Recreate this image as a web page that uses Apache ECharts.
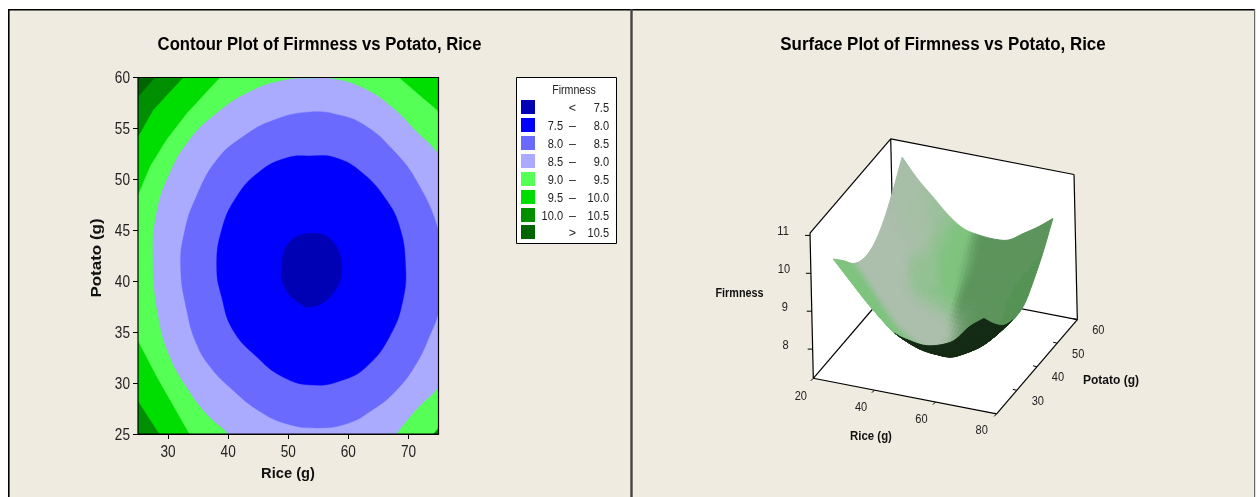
<!DOCTYPE html>
<html><head><meta charset="utf-8">
<style>html,body{margin:0;padding:0;background:#fff}#c{width:1257px;height:497px}</style>
<script src="https://cdn.jsdelivr.net/npm/echarts@6/dist/echarts.min.js"></script>
</head><body><div id="c"></div>
<script>
// ---------- contour boundaries: [rice, potato]
const band90 = [[53.6,59.9],[58,59.8],[63,58.8],[67.4,57],[71.3,54.7],[75,52.5],[79,49],[81,41],[79,33],[75,29.6],[71.3,27.4],[68,25],[65,22.5],[54,20],[43,22.5],[40,25],[36.4,27],[33.1,29.6],[30.3,32.6],[28.4,36.5],[27.5,42.1],[28.1,46.7],[30.3,50.6],[33.6,53.9],[38.1,56.5],[43.6,58.6],[49.1,59.7]];
const band85 = [[53.3,56.6],[58.6,56.3],[63,55.2],[67.4,52.9],[71.3,49.9],[75,45],[76,41],[75,37],[73.5,34.6],[71.3,31.9],[68,29.3],[64.1,27.4],[59.7,26],[54.7,25.6],[49.7,26],[45.3,27.2],[40.8,29.3],[37,31.6],[34.7,33.9],[33.1,37.2],[32.1,41.4],[32.8,45],[34.7,48.3],[38.1,51.9],[42.5,54.2],[47.5,55.8]];
const band80 = [[53.6,52.3],[58,52.1],[62.4,50.6],[66.3,48],[68.5,45.4],[69.5,41.8],[69.1,38.2],[66.9,34.6],[63,31.6],[59.1,30.3],[54.1,29.8],[49.1,30.6],[44.7,32.6],[40.8,35.2],[38.9,38.5],[38.1,41.4],[38.9,45],[41.4,48.3],[45.3,50.8],[49.7,52.1]];
const band75 = [[53.8,44.7],[57.4,43.9],[58.9,41.1],[57.4,38.8],[54.1,37.5],[51.4,38],[49.1,39.8],[48.9,41.4],[50,43.7]];
const cornerTL95 = [[25,48.5],[27,51.3],[29.7,53.9],[33.1,56.5],[38.6,60],[25,60]];
const cornerTL100 = [[25,54.2],[27.5,56.8],[32.5,60],[25,60]];
const cornerTL105 = [[25,58.1],[27.8,60],[25,60]];
const cornerTR95 = [[68.5,60],[71.8,58.3],[75,56.7],[75,60]];
const cornerBL95 = [[25,34.1],[28.1,30.6],[30.9,27.7],[33.5,25],[25,25]];
const cornerBL100 = [[25,28.2],[28.5,25],[25,25]];
const cornerBR95 = [[74.2,25],[75,25.6],[75,25]];
const plotArea = [[25,25],[75,25],[75,60],[25,60]];

// ---------- legend
const legendLeft = ['', '7.5', '8.0', '8.5', '9.0', '9.5', '10.0', ''];
const legendMid = ['<', '–', '–', '–', '–', '–', '–', '>'];
const legendRight = ['7.5','8.0','8.5','9.0','9.5','10.0','10.5','10.5'];
const bandColors = ['#0000b4','#0000ff','#6a6aff','#aaaaff','#55ff55','#00dd00','#008f00','#006400'];

// ---------- ticks
const contourRiceTicks = [30,40,50,60,70];
const contourPotatoTicks = [25,30,35,40,45,50,55,60];
const surfaceRiceTicks = [20,40,60,80];
const surfacePotatoTicks = [30,40,50,60];
const surfaceFirmnessTicks = [8,9,10,11];

// ---------- surface heights
const riceGrid = [25,30,35,40,45,50,55,60,65,70,75];
const potatoGrid = [25,30,35,40,45,50,55,60];
const firmnessP25 = [10.15,9.7,9.25,8.85,8.5,8.38,8.33,8.42,8.62,9.05,9.35];
const firmnessP30 = [9.8,9.28,8.75,8.3,8.02,7.85,7.8,7.82,8.12,8.52,8.9];
const firmnessP35 = [9.42,8.86,8.34,8.0,7.72,7.55,7.5,7.56,7.78,8.14,8.56];
const firmnessP40 = [9.25,8.68,8.18,7.85,7.58,7.4,7.33,7.46,7.64,8.0,8.44];
const firmnessP45 = [9.3,8.75,8.25,7.93,7.68,7.52,7.5,7.57,7.78,8.1,8.5];
const firmnessP50 = [9.6,8.98,8.6,8.3,7.97,7.85,7.85,7.92,8.12,8.45,8.85];
const firmnessP55 = [10.1,9.6,9.08,8.75,8.5,8.4,8.36,8.45,8.62,8.95,9.3];
const firmnessP60 = [10.7,10.2,9.8,9.4,9.12,9.03,9.0,9.05,9.3,9.55,9.85];
const firmnessRows = [firmnessP25,firmnessP30,firmnessP35,firmnessP40,firmnessP45,firmnessP50,firmnessP55,firmnessP60];

// ---------- oblique view of the surface panel (output: page pixels)
const boxRice = [20.7,81.8], boxPotato = [20.2,60.9], boxFirm = [7.23,11.06];
function project(r,p,z){
  return [700+(400+9*(r-25)+5.95*(p-25)-2.6*(z-10))/3,
          130+(719+1.75*(r-25)-6.95*(p-25)-113.7*(z-7.23))/3];
}
const riceAt = v => boxRice[0]+(v-20)/60*(boxRice[1]-boxRice[0]);
const potAt = v => boxPotato[0]+(v-20)/40*(boxPotato[1]-boxPotato[0]);

function crom(a,b,c,d,t){return 0.5*(2*b+(c-a)*t+(2*a-5*b+4*c-d)*t*t+(3*b-a-3*c+d)*t*t*t);}
function gridVal(i,j){
  const ni=riceGrid.length, nj=potatoGrid.length;
  if(j<0) return 2*gridVal(i,0)-gridVal(i,1);
  if(j>=nj) return 2*gridVal(i,nj-1)-gridVal(i,nj-2);
  if(i<0) return 2*firmnessRows[j][0]-firmnessRows[j][1];
  if(i>=ni) return 2*firmnessRows[j][ni-1]-firmnessRows[j][ni-2];
  return firmnessRows[j][i];
}
function height(u,v){
  const i=Math.min(Math.floor(u),riceGrid.length-2), j=Math.min(Math.floor(v),potatoGrid.length-2);
  const tu=u-i, tv=v-j, col=[];
  for(let k=-1;k<=2;k++) col.push(crom(gridVal(i-1,j+k),gridVal(i,j+k),gridVal(i+1,j+k),gridVal(i+2,j+k),tu));
  return crom(col[0],col[1],col[2],col[3],tv);
}
const mix=(a,b,t)=>a.map((x,k)=>x+(b[k]-x)*t);
const clamp=(x)=>Math.max(0,Math.min(1,x));
const sstep=(e0,e1,x)=>{const t=clamp((x-e0)/(e1-e0));return t*t*(3-2*t);};
function shade(gr,gp,under){
  if(under){
    const c=mix([20,42,20],[70,104,70],clamp((-gr-0.02)/0.10));
    return 'rgb('+c.map(Math.round).join(',')+')';
  }
  const g=Math.hypot(gr,gp);
  let c=mix([92,148,92],[130,200,130],Math.max(sstep(0.17,0.25,g),sstep(-0.005,-0.03,gr)*0.9));
  if(gr>0.06 && gp<0.1) c=mix(c,[80,146,80],0.6);
  const g1=sstep(0.02,-0.03,gr)*(1-sstep(0.03,0.10,gp));
  const g2=sstep(-0.04,-0.09,gr)*(1-0.45*sstep(0.08,0.2,gp));
  const front=1-sstep(0.03,0.08,-gp);
  c=mix(c,[172,190,172],clamp(Math.max(g1,g2)*front));
  return 'rgb('+c.map(Math.round).join(',')+')';
}

function polyItem(api,pts,color,smooth,lw){
  return {type:'polygon',shape:{points:pts.map(q=>api.coord(q)),smooth:smooth||0},silent:true,
    style:{fill:color,stroke:color,lineWidth:lw||0.4}};
}
const contourLayers=[
 [plotArea,bandColors[4],0],[cornerTL95,bandColors[5],0],[cornerTL100,bandColors[6],0],[cornerTL105,bandColors[7],0],
 [cornerTR95,bandColors[5],0],[cornerBL95,bandColors[5],0],[cornerBL100,bandColors[6],0],[cornerBR95,bandColors[6],0],
 [band90,bandColors[3],0.45],[band85,bandColors[2],0.45],[band80,bandColors[1],0.45],[band75,bandColors[0],0.45]
];

function surfaceChildren(api){
  const out=[], sub=5;
  const nu=(riceGrid.length-1)*sub, nv=(potatoGrid.length-1)*sub;
  const dr=(riceGrid[1]-riceGrid[0])/sub, dp=(potatoGrid[1]-potatoGrid[0])/sub;
  const R=u=>riceGrid[0]+u*dr, P=v=>potatoGrid[0]+v*dp, Z=(u,v)=>height(u/sub,v/sub);
  const cu=u=>Math.max(0,Math.min(nu,u)), cv=v=>Math.max(0,Math.min(nv,v));
  for(let v=nv-1;v>=0;v--){
    for(let u=0;u<nu;u++){
      const a=project(R(u),P(v),Z(u,v)), b=project(R(u+1),P(v),Z(u+1,v)),
            c=project(R(u+1),P(v+1),Z(u+1,v+1)), d=project(R(u),P(v+1),Z(u,v+1));
      const cross=(c[0]-a[0])*(d[1]-b[1])-(c[1]-a[1])*(d[0]-b[0]);
      const u0=cu(u-sub+1),u1=cu(u+sub),v0=cv(v-sub+1),v1=cv(v+sub);
      const gr=(Z(u1,v)+Z(u1,v+1)-Z(u0,v)-Z(u0,v+1))/(2*(u1-u0)*dr);
      const gp=(Z(u,v1)+Z(u+1,v1)-Z(u,v0)-Z(u+1,v0))/(2*(v1-v0)*dp);
      out.push(polyItem(api,[a,b,c,d],shade(gr,gp,cross>0),0,1));
    }
  }
  return out;
}
const B=(i,j,k)=>project(boxRice[i],boxPotato[j],boxFirm[k]);
function segLine(api,a,b,w){
  const p=api.coord(a),q=api.coord(b);
  return {type:'line',silent:true,shape:{x1:p[0],y1:p[1],x2:q[0],y2:q[1]},style:{stroke:'#000',lineWidth:w||1.2}};
}
const FF='"Liberation Sans"';
function txt(api,pt,text,opt,sx,rot){
  const p=api.coord(pt);
  return {type:'text',silent:true,x:p[0],y:p[1],scaleX:sx||0.85,rotation:rot||0,
    style:Object.assign({text:text,fill:'#222',font:'13px '+FF,align:'center',verticalAlign:'middle'},opt||{})};
}
function boxBack(api){
  const face=pts=>({type:'polygon',silent:true,shape:{points:pts.map(q=>api.coord(q))},style:{fill:'#ffffff'}});
  return [
    face([B(0,0,1),B(0,1,1),B(0,1,0),B(0,0,0)]),
    face([B(0,1,1),B(1,1,1),B(1,1,0),B(0,1,0)]),
    face([B(0,0,0),B(1,0,0),B(1,1,0),B(0,1,0)]),
    segLine(api,B(0,0,1),B(0,1,1)),segLine(api,B(0,1,1),B(1,1,1)),segLine(api,B(1,1,1),B(1,1,0)),
    segLine(api,B(1,1,0),B(1,0,0)),segLine(api,B(1,0,0),B(0,0,0)),segLine(api,B(0,0,0),B(0,0,1)),
    segLine(api,B(0,1,1),B(0,1,0)),segLine(api,B(0,0,0),B(0,1,0)),segLine(api,B(0,1,0),B(1,1,0))
  ];
}
function boxTicks(api){
  const out=[];
  surfaceRiceTicks.forEach(v=>{
    const a=project(riceAt(v),boxPotato[0],boxFirm[0]);
    out.push(segLine(api,a,[a[0]-2.5,a[1]+2.5],1));
    out.push(txt(api,[a[0]-12.5-(v-20)*0.04,a[1]+18-(v-20)*0.02],String(v)));
  });
  surfacePotatoTicks.forEach(v=>{
    const a=project(boxRice[1],potAt(v),boxFirm[0]);
    out.push(segLine(api,[a[0]-4,a[1]-1],a,1));
    out.push(txt(api,[a[0]+21,a[1]+11],String(v)));
  });
  surfaceFirmnessTicks.forEach(v=>{
    const a=project(boxRice[0],boxPotato[0],v);
    out.push(segLine(api,[a[0]-5,a[1]],a,1));
    out.push(txt(api,[a[0]-27,a[1]-4],String(v)));
  });
  const bold={font:'bold 12px '+FF,fill:'#111'};
  out.push(txt(api,[739.5,293.5],'Firmness',bold,0.9));
  out.push(txt(api,[871,437],'Rice (g)',bold,0.95));
  out.push(txt(api,[1111,380.5],'Potato (g)',bold,1));
  return out;
}
function contourLabels(api){
  const out=[], f={font:'16px '+FF,fill:'#222'};
  contourRiceTicks.forEach(v=>{const a=api.coord([v,25]);
    out.push({type:'text',silent:true,x:a[0],y:a[1]+18.5,scaleX:0.85,style:Object.assign({text:String(v),align:'center',verticalAlign:'middle'},f)});});
  contourPotatoTicks.forEach(v=>{const a=api.coord([25,v]);
    out.push({type:'text',silent:true,x:a[0]-8,y:a[1]+1.5,scaleX:0.85,style:Object.assign({text:String(v),align:'right',verticalAlign:'middle'},f)});});
  out.push({type:'text',silent:true,x:288,y:474,scaleX:0.98,style:{text:'Rice (g)',font:'bold 15px '+FF,fill:'#111',align:'center',verticalAlign:'middle'}});
  out.push({type:'text',silent:true,x:96.5,y:258,rotation:Math.PI/2,scaleX:1.13,style:{text:'Potato (g)',font:'bold 15px '+FF,fill:'#111',align:'center',verticalAlign:'middle'}});
  return out;
}

const titleFont='bold 18px '+FF;
const graphics=[
  {type:'rect',z:-10,silent:true,shape:{x:9,y:10,width:1245,height:487},style:{fill:'#efebe0'}},
  {type:'rect',z:-9,silent:true,shape:{x:8,y:9,width:1246,height:1.6},style:{fill:'#000'}},
  {type:'rect',z:-9,silent:true,shape:{x:8,y:9,width:1.6,height:488},style:{fill:'#000'}},
  {type:'rect',z:-9,silent:true,shape:{x:630.3,y:9,width:2.4,height:488},style:{fill:'#444'}},
  {type:'rect',z:-9,silent:true,shape:{x:1254,y:9,width:1.2,height:488},style:{fill:'#666'}},
  {type:'text',silent:true,x:319.5,y:45,scaleX:0.925,style:{text:'Contour Plot of Firmness vs Potato, Rice',font:titleFont,fill:'#000',align:'center',verticalAlign:'middle'}},
  {type:'text',silent:true,x:943,y:45,scaleX:0.94,style:{text:'Surface Plot of Firmness vs Potato, Rice',font:titleFont,fill:'#000',align:'center',verticalAlign:'middle'}},
  {type:'rect',silent:true,shape:{x:516.5,y:77.5,width:100,height:166},style:{fill:'#fff',stroke:'#000',lineWidth:1}},
  {type:'text',silent:true,x:574,y:90.5,scaleX:0.85,style:{text:'Firmness',font:'12.5px '+FF,fill:'#222',align:'center',verticalAlign:'middle'}}
];
const legendFont='12.5px '+FF;
bandColors.forEach((col,i)=>{
  const y=107+i*18-(i>6?1:0);
  graphics.push({type:'rect',silent:true,shape:{x:521,y:y-7,width:14,height:14},style:{fill:col}});
  const ty=y+2;
  if(legendLeft[i]) graphics.push({type:'text',silent:true,x:563,y:ty,scaleX:0.88,style:{text:legendLeft[i],font:legendFont,fill:'#222',align:'right',verticalAlign:'middle'}});
  graphics.push({type:'text',silent:true,x:572.5,y:ty,style:{text:legendMid[i],font:legendFont,fill:'#222',align:'center',verticalAlign:'middle'}});
  graphics.push({type:'text',silent:true,x:609,y:ty,scaleX:0.88,style:{text:legendRight[i],font:legendFont,fill:'#222',align:'right',verticalAlign:'middle'}});
});

const chart=echarts.init(document.getElementById('c'),null,{renderer:'canvas'});
chart.setOption({
  animation:false,
  backgroundColor:'#ffffff',
  graphic:graphics,
  grid:[
    {left:138,top:77.5,width:300.5,height:356.5},
    {left:0,top:0,width:1257,height:497}
  ],
  xAxis:[
    {gridIndex:0,type:'value',min:25,max:75,
     axisLine:{show:true,lineStyle:{color:'#000',width:1}},splitLine:{show:false},
     axisTick:{show:true,length:5,customValues:contourRiceTicks,lineStyle:{color:'#000'}},
     axisLabel:{show:false}},
    {gridIndex:1,type:'value',min:0,max:1257,show:false}
  ],
  yAxis:[
    {gridIndex:0,type:'value',min:25,max:60,interval:5,
     axisLine:{show:true,lineStyle:{color:'#000',width:1}},splitLine:{show:false},
     axisTick:{show:true,length:5,lineStyle:{color:'#000'}},
     axisLabel:{show:false}},
    {gridIndex:1,type:'value',min:0,max:497,inverse:true,show:false}
  ],
  series:[
    {type:'custom',xAxisIndex:0,yAxisIndex:0,data:[0],clip:true,z:3,silent:true,
     renderItem:(p,api)=>({type:'group',children:contourLayers.map(l=>polyItem(api,l[0],l[1],l[2]))})},
    {type:'custom',xAxisIndex:0,yAxisIndex:0,data:[0],clip:false,z:4,silent:true,
     renderItem:(p,api)=>{
       const a=api.coord([25,25]),b=api.coord([75,60]);
       return {type:'group',children:[{type:'rect',shape:{x:a[0],y:b[1],width:b[0]-a[0],height:a[1]-b[1]},style:{fill:'none',stroke:'#000',lineWidth:1.2}}].concat(contourLabels(api))};
     }},
    {type:'custom',xAxisIndex:1,yAxisIndex:1,data:[0],clip:false,z:3,silent:true,
     renderItem:(p,api)=>({type:'group',children:boxBack(api)})},
    {type:'custom',xAxisIndex:1,yAxisIndex:1,data:[0],clip:false,z:4,silent:true,
     renderItem:(p,api)=>({type:'group',children:surfaceChildren(api)})},
    {type:'custom',xAxisIndex:1,yAxisIndex:1,data:[0],clip:false,z:5,silent:true,
     renderItem:(p,api)=>({type:'group',children:boxTicks(api)})}
  ]
});
</script>
</body></html>
